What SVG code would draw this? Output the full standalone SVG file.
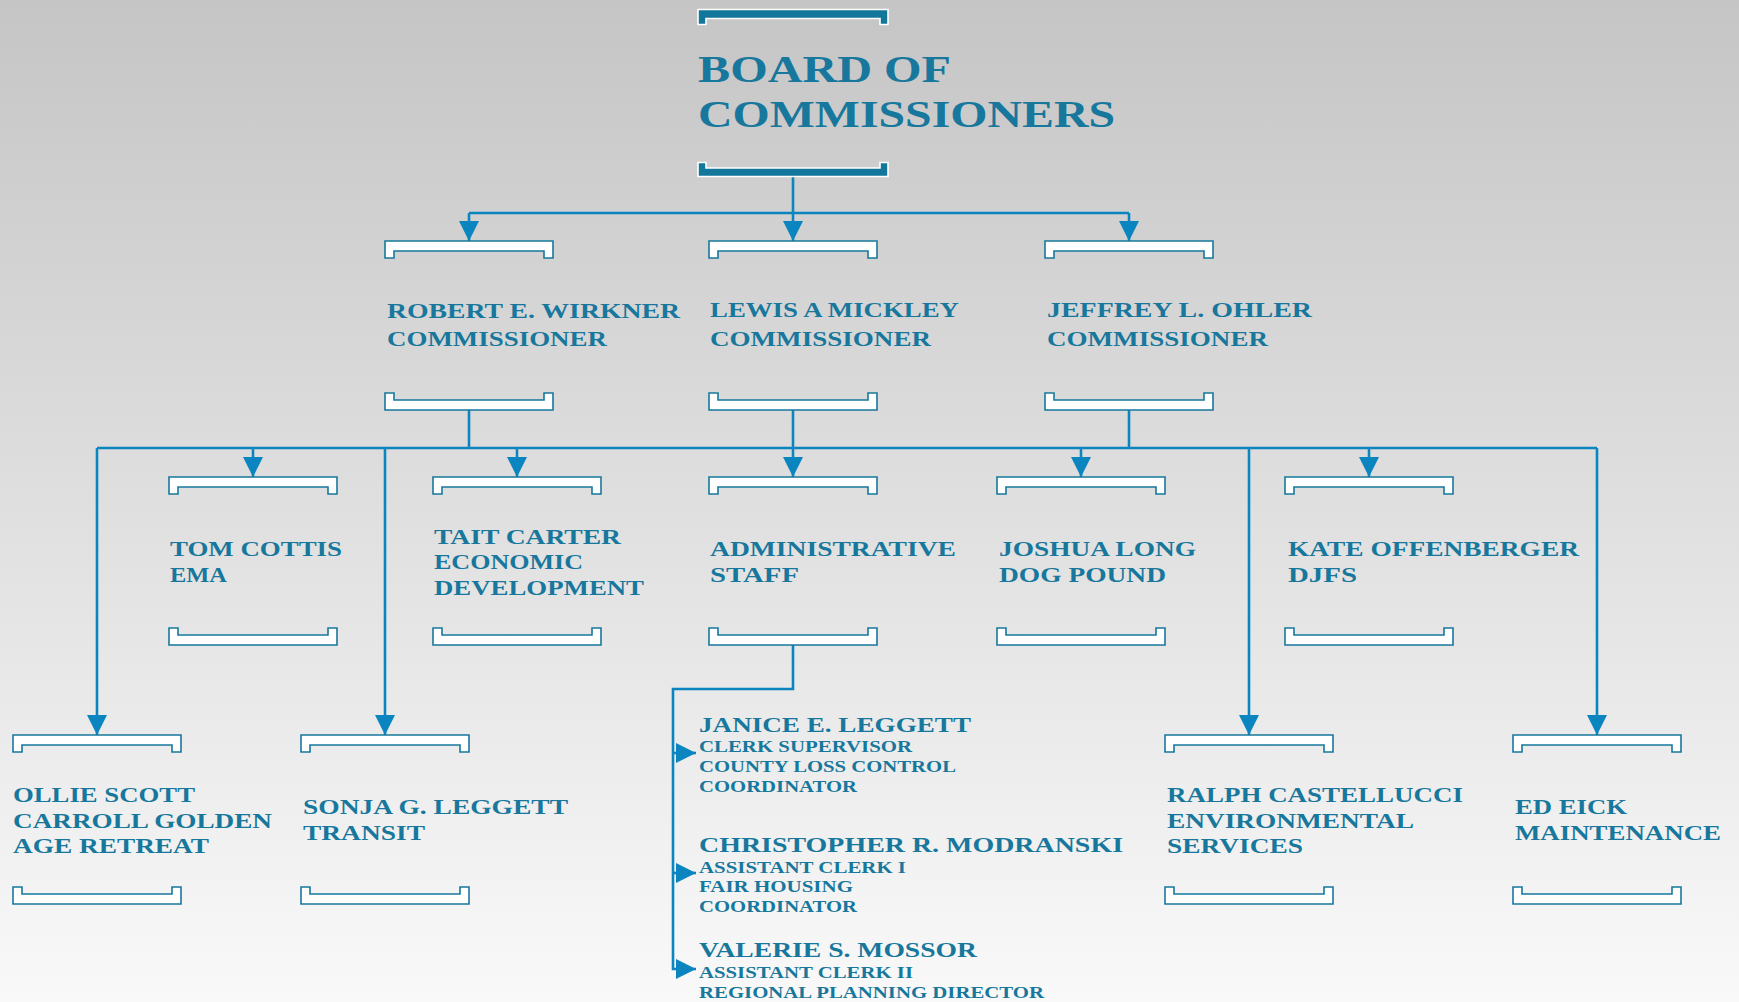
<svg xmlns="http://www.w3.org/2000/svg" width="1739" height="1002" viewBox="0 0 1739 1002">
<defs>
<linearGradient id="bg" x1="0" y1="0" x2="0" y2="1">
<stop offset="0" stop-color="#c5c5c5"/>
<stop offset="1" stop-color="#f9f9f9"/>
</linearGradient>
<marker id="ad" markerUnits="userSpaceOnUse" markerWidth="20" markerHeight="20" viewBox="0 0 18 18" refX="18" refY="9" orient="auto">
<path d="M0,0 L18,9 L0,18 Z" fill="#0b85bf"/>
</marker>
<style>
.c{fill:none;stroke:#0b85bf;stroke-width:2.6}
.br{fill:#ffffff;stroke:#17789d;stroke-width:1.6}
.bb{fill:#13769b;stroke:#ffffff;stroke-width:1.6}
text{font-family:"Liberation Serif","Times New Roman",serif;font-weight:bold;fill:#17779c}
.h{font-size:38px}
.n{font-size:21px}
.s{font-size:16.5px}
</style>
</defs>
<rect x="0" y="0" width="1739" height="1002" fill="url(#bg)"/>

<g id="connectors">
<path class="c" d="M793,177 V241" marker-end="url(#ad)"/>
<path class="c" d="M469,213 H1129"/>
<path class="c" d="M469,213 V241" marker-end="url(#ad)"/>
<path class="c" d="M1129,213 V241" marker-end="url(#ad)"/>
<path class="c" d="M97,448 H1597"/>
<path class="c" d="M469,410 V448"/>
<path class="c" d="M1129,410 V448"/>
<path class="c" d="M793,410 V477" marker-end="url(#ad)"/>
<path class="c" d="M253,448 V477" marker-end="url(#ad)"/>
<path class="c" d="M517,448 V477" marker-end="url(#ad)"/>
<path class="c" d="M1081,448 V477" marker-end="url(#ad)"/>
<path class="c" d="M1369,448 V477" marker-end="url(#ad)"/>
<path class="c" d="M97,448 V735" marker-end="url(#ad)"/>
<path class="c" d="M385,448 V735" marker-end="url(#ad)"/>
<path class="c" d="M1249,448 V735" marker-end="url(#ad)"/>
<path class="c" d="M1597,448 V735" marker-end="url(#ad)"/>
<path class="c" d="M793,645 V689 H673 V969 H696" marker-end="url(#ad)"/>
<path class="c" d="M673,753 H696" marker-end="url(#ad)"/>
<path class="c" d="M673,873 H696" marker-end="url(#ad)"/>
</g>

<g id="board">
<path class="bb" d="M698,9.5 H888 V24.5 H880 V18.5 H706 V24.5 H698 Z"/>
<path class="bb" d="M698,162.5 H706 V168 H880 V162.5 H888 V176.5 H698 Z"/>
<text class="h" x="698" y="82" textLength="253" lengthAdjust="spacingAndGlyphs">BOARD OF</text>
<text class="h" x="698" y="127" textLength="417" lengthAdjust="spacingAndGlyphs">COMMISSIONERS</text>
</g>

<g id="robert">
<path class="br" d="M385,241 H553 V258 H544 V251 H394 V258 H385 Z"/>
<path class="br" d="M385,393 H394 V400 H544 V393 H553 V410 H385 Z"/>
<text class="n" x="387" y="318" textLength="293" lengthAdjust="spacingAndGlyphs">ROBERT E. WIRKNER</text>
<text class="n" x="387" y="346" textLength="220" lengthAdjust="spacingAndGlyphs">COMMISSIONER</text>
</g>

<g id="lewis">
<path class="br" d="M709,241 H877 V258 H868 V251 H718 V258 H709 Z"/>
<path class="br" d="M709,393 H718 V400 H868 V393 H877 V410 H709 Z"/>
<text class="n" x="710" y="317" textLength="249" lengthAdjust="spacingAndGlyphs">LEWIS A MICKLEY</text>
<text class="n" x="710" y="346" textLength="221" lengthAdjust="spacingAndGlyphs">COMMISSIONER</text>
</g>

<g id="jeffrey">
<path class="br" d="M1045,241 H1213 V258 H1204 V251 H1054 V258 H1045 Z"/>
<path class="br" d="M1045,393 H1054 V400 H1204 V393 H1213 V410 H1045 Z"/>
<text class="n" x="1047" y="317" textLength="265" lengthAdjust="spacingAndGlyphs">JEFFREY L. OHLER</text>
<text class="n" x="1047" y="346" textLength="221" lengthAdjust="spacingAndGlyphs">COMMISSIONER</text>
</g>

<g id="tom">
<path class="br" d="M169,477 H337 V494 H328 V487 H178 V494 H169 Z"/>
<path class="br" d="M169,628 H178 V635 H328 V628 H337 V645 H169 Z"/>
<text class="n" x="170" y="556" textLength="172" lengthAdjust="spacingAndGlyphs">TOM COTTIS</text>
<text class="n" x="170" y="582" textLength="57" lengthAdjust="spacingAndGlyphs">EMA</text>
</g>

<g id="tait">
<path class="br" d="M433,477 H601 V494 H592 V487 H442 V494 H433 Z"/>
<path class="br" d="M433,628 H442 V635 H592 V628 H601 V645 H433 Z"/>
<text class="n" x="434" y="544" textLength="187" lengthAdjust="spacingAndGlyphs">TAIT CARTER</text>
<text class="n" x="434" y="569" textLength="149" lengthAdjust="spacingAndGlyphs">ECONOMIC</text>
<text class="n" x="434" y="595" textLength="210" lengthAdjust="spacingAndGlyphs">DEVELOPMENT</text>
</g>

<g id="admin">
<path class="br" d="M709,477 H877 V494 H868 V487 H718 V494 H709 Z"/>
<path class="br" d="M709,628 H718 V635 H868 V628 H877 V645 H709 Z"/>
<text class="n" x="710" y="556" textLength="246" lengthAdjust="spacingAndGlyphs">ADMINISTRATIVE</text>
<text class="n" x="710" y="582" textLength="89" lengthAdjust="spacingAndGlyphs">STAFF</text>
</g>

<g id="joshua">
<path class="br" d="M997,477 H1165 V494 H1156 V487 H1006 V494 H997 Z"/>
<path class="br" d="M997,628 H1006 V635 H1156 V628 H1165 V645 H997 Z"/>
<text class="n" x="999" y="556" textLength="197" lengthAdjust="spacingAndGlyphs">JOSHUA LONG</text>
<text class="n" x="999" y="582" textLength="167" lengthAdjust="spacingAndGlyphs">DOG POUND</text>
</g>

<g id="kate">
<path class="br" d="M1285,477 H1453 V494 H1444 V487 H1294 V494 H1285 Z"/>
<path class="br" d="M1285,628 H1294 V635 H1444 V628 H1453 V645 H1285 Z"/>
<text class="n" x="1288" y="556" textLength="291" lengthAdjust="spacingAndGlyphs">KATE OFFENBERGER</text>
<text class="n" x="1288" y="582" textLength="69" lengthAdjust="spacingAndGlyphs">DJFS</text>
</g>

<g id="ollie">
<path class="br" d="M13,735 H181 V752 H172 V745 H22 V752 H13 Z"/>
<path class="br" d="M13,887 H22 V894 H172 V887 H181 V904 H13 Z"/>
<text class="n" x="13" y="802" textLength="182" lengthAdjust="spacingAndGlyphs">OLLIE SCOTT</text>
<text class="n" x="13" y="828" textLength="259" lengthAdjust="spacingAndGlyphs">CARROLL GOLDEN</text>
<text class="n" x="13" y="853" textLength="196" lengthAdjust="spacingAndGlyphs">AGE RETREAT</text>
</g>

<g id="sonja">
<path class="br" d="M301,735 H469 V752 H460 V745 H310 V752 H301 Z"/>
<path class="br" d="M301,887 H310 V894 H460 V887 H469 V904 H301 Z"/>
<text class="n" x="303" y="814" textLength="265" lengthAdjust="spacingAndGlyphs">SONJA G. LEGGETT</text>
<text class="n" x="303" y="840" textLength="122" lengthAdjust="spacingAndGlyphs">TRANSIT</text>
</g>

<g id="ralph">
<path class="br" d="M1165,735 H1333 V752 H1324 V745 H1174 V752 H1165 Z"/>
<path class="br" d="M1165,887 H1174 V894 H1324 V887 H1333 V904 H1165 Z"/>
<text class="n" x="1167" y="802" textLength="296" lengthAdjust="spacingAndGlyphs">RALPH CASTELLUCCI</text>
<text class="n" x="1167" y="828" textLength="247" lengthAdjust="spacingAndGlyphs">ENVIRONMENTAL</text>
<text class="n" x="1167" y="853" textLength="136" lengthAdjust="spacingAndGlyphs">SERVICES</text>
</g>

<g id="ed">
<path class="br" d="M1513,735 H1681 V752 H1672 V745 H1522 V752 H1513 Z"/>
<path class="br" d="M1513,887 H1522 V894 H1672 V887 H1681 V904 H1513 Z"/>
<text class="n" x="1515" y="814" textLength="112" lengthAdjust="spacingAndGlyphs">ED EICK</text>
<text class="n" x="1515" y="840" textLength="206" lengthAdjust="spacingAndGlyphs">MAINTENANCE</text>
</g>

<g id="janice">
<text class="n" x="699" y="732" textLength="272" lengthAdjust="spacingAndGlyphs">JANICE E. LEGGETT</text>
<text class="s" x="699" y="752" textLength="213" lengthAdjust="spacingAndGlyphs">CLERK SUPERVISOR</text>
<text class="s" x="699" y="772" textLength="257" lengthAdjust="spacingAndGlyphs">COUNTY LOSS CONTROL</text>
<text class="s" x="699" y="792" textLength="158" lengthAdjust="spacingAndGlyphs">COORDINATOR</text>
</g>

<g id="christopher">
<text class="n" x="699" y="852" textLength="424" lengthAdjust="spacingAndGlyphs">CHRISTOPHER R. MODRANSKI</text>
<text class="s" x="699" y="873" textLength="207" lengthAdjust="spacingAndGlyphs">ASSISTANT CLERK I</text>
<text class="s" x="699" y="892" textLength="154" lengthAdjust="spacingAndGlyphs">FAIR HOUSING</text>
<text class="s" x="699" y="912" textLength="158" lengthAdjust="spacingAndGlyphs">COORDINATOR</text>
</g>

<g id="valerie">
<text class="n" x="699" y="957" textLength="278" lengthAdjust="spacingAndGlyphs">VALERIE S. MOSSOR</text>
<text class="s" x="699" y="978" textLength="214" lengthAdjust="spacingAndGlyphs">ASSISTANT CLERK II</text>
<text class="s" x="699" y="998" textLength="345" lengthAdjust="spacingAndGlyphs">REGIONAL PLANNING DIRECTOR</text>
</g>
</svg>
